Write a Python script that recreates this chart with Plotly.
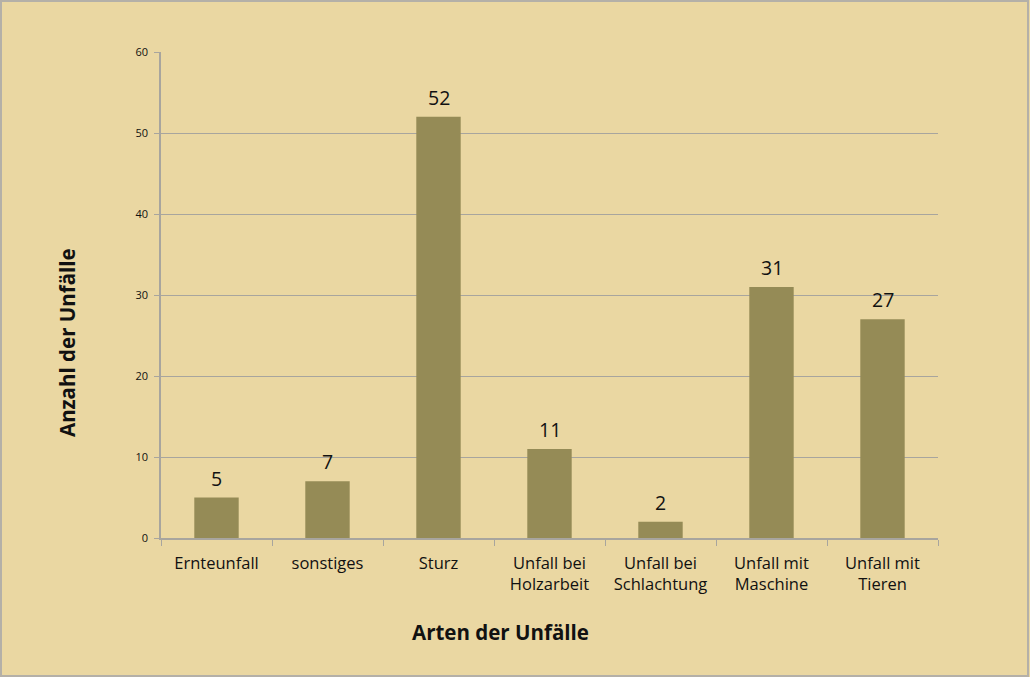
import plotly.graph_objects as go

categories = ["Ernteunfall", "sonstiges", "Sturz", "Unfall bei<br>Holzarbeit",
              "Unfall bei<br>Schlachtung", "Unfall mit<br>Maschine", "Unfall mit<br>Tieren"]
values = [5, 7, 52, 11, 2, 31, 27]
y_ticks = [0, 10, 20, 30, 40, 50, 60]

FONT = "Open Sans"
BG = "#EAD7A2"
BAR = "#958B56"
GRID = "#A8A59E"
TXT = "#111111"

fig = go.Figure(go.Bar(
    x=categories, y=values,
    marker=dict(color=BAR, line=dict(width=0)),
    hoverinfo="x+y",
))

# value labels above the bars
for c, v in zip(categories, values):
    fig.add_annotation(x=c, y=v, text=str(v), showarrow=False, yanchor="bottom",
                       yshift=4, font=dict(family=FONT, size=19.5, color=TXT))

# axis titles
fig.add_annotation(xref="paper", yref="paper", x=(500 - 161) / 777, y=(538 - 632) / 486,
                   text="<b>Arten der Unfälle</b>", showarrow=False,
                   xanchor="center", yanchor="middle",
                   font=dict(family=FONT, size=20.5, color=TXT))
fig.add_annotation(xref="paper", yref="paper", x=(67 - 161) / 777, y=(538 - 343) / 486,
                   text="<b>Anzahl der Unfälle</b>", showarrow=False, textangle=-90,
                   xanchor="center", yanchor="middle",
                   font=dict(family=FONT, size=20.5, color=TXT))

fig.update_layout(
    width=1030, height=677,
    margin=dict(l=161, r=92, t=52, b=139),
    paper_bgcolor=BG, plot_bgcolor=BG,
    bargap=0.6,
    showlegend=False,
    font=dict(family=FONT, color=TXT),
    xaxis=dict(
        type="category",
        tickson="boundaries", ticks="outside", ticklen=6, tickcolor=GRID,
        showline=True, linecolor=GRID, linewidth=1.5,
        showgrid=False,
        ticklabelstandoff=9,
        tickfont=dict(family=FONT, size=16.5, color=TXT),
    ),
    yaxis=dict(
        range=[0, 60], tickvals=y_ticks, ticktext=[str(t) for t in y_ticks],
        ticks="outside", ticklen=5, tickcolor=GRID,
        showline=True, linecolor=GRID, linewidth=1.5,
        showgrid=True, gridcolor=GRID, gridwidth=1.2,
        zeroline=False,
        ticklabelstandoff=4,
        tickfont=dict(family=FONT, size=11, color=TXT),
    ),
    shapes=[dict(type="rect", xref="paper", yref="paper", layer="below",
                 x0=(1 - 161) / 777, x1=(1028 - 161) / 777,
                 y0=(538 - 676) / 486, y1=(538 - 1) / 486,
                 line=dict(color="#B4B0A8", width=2), fillcolor="rgba(0,0,0,0)")],
)

fig.write_html("out.html", config={"displayModeBar": False},
               post_script="document.body.style.margin='0';document.body.style.overflow='hidden';")
